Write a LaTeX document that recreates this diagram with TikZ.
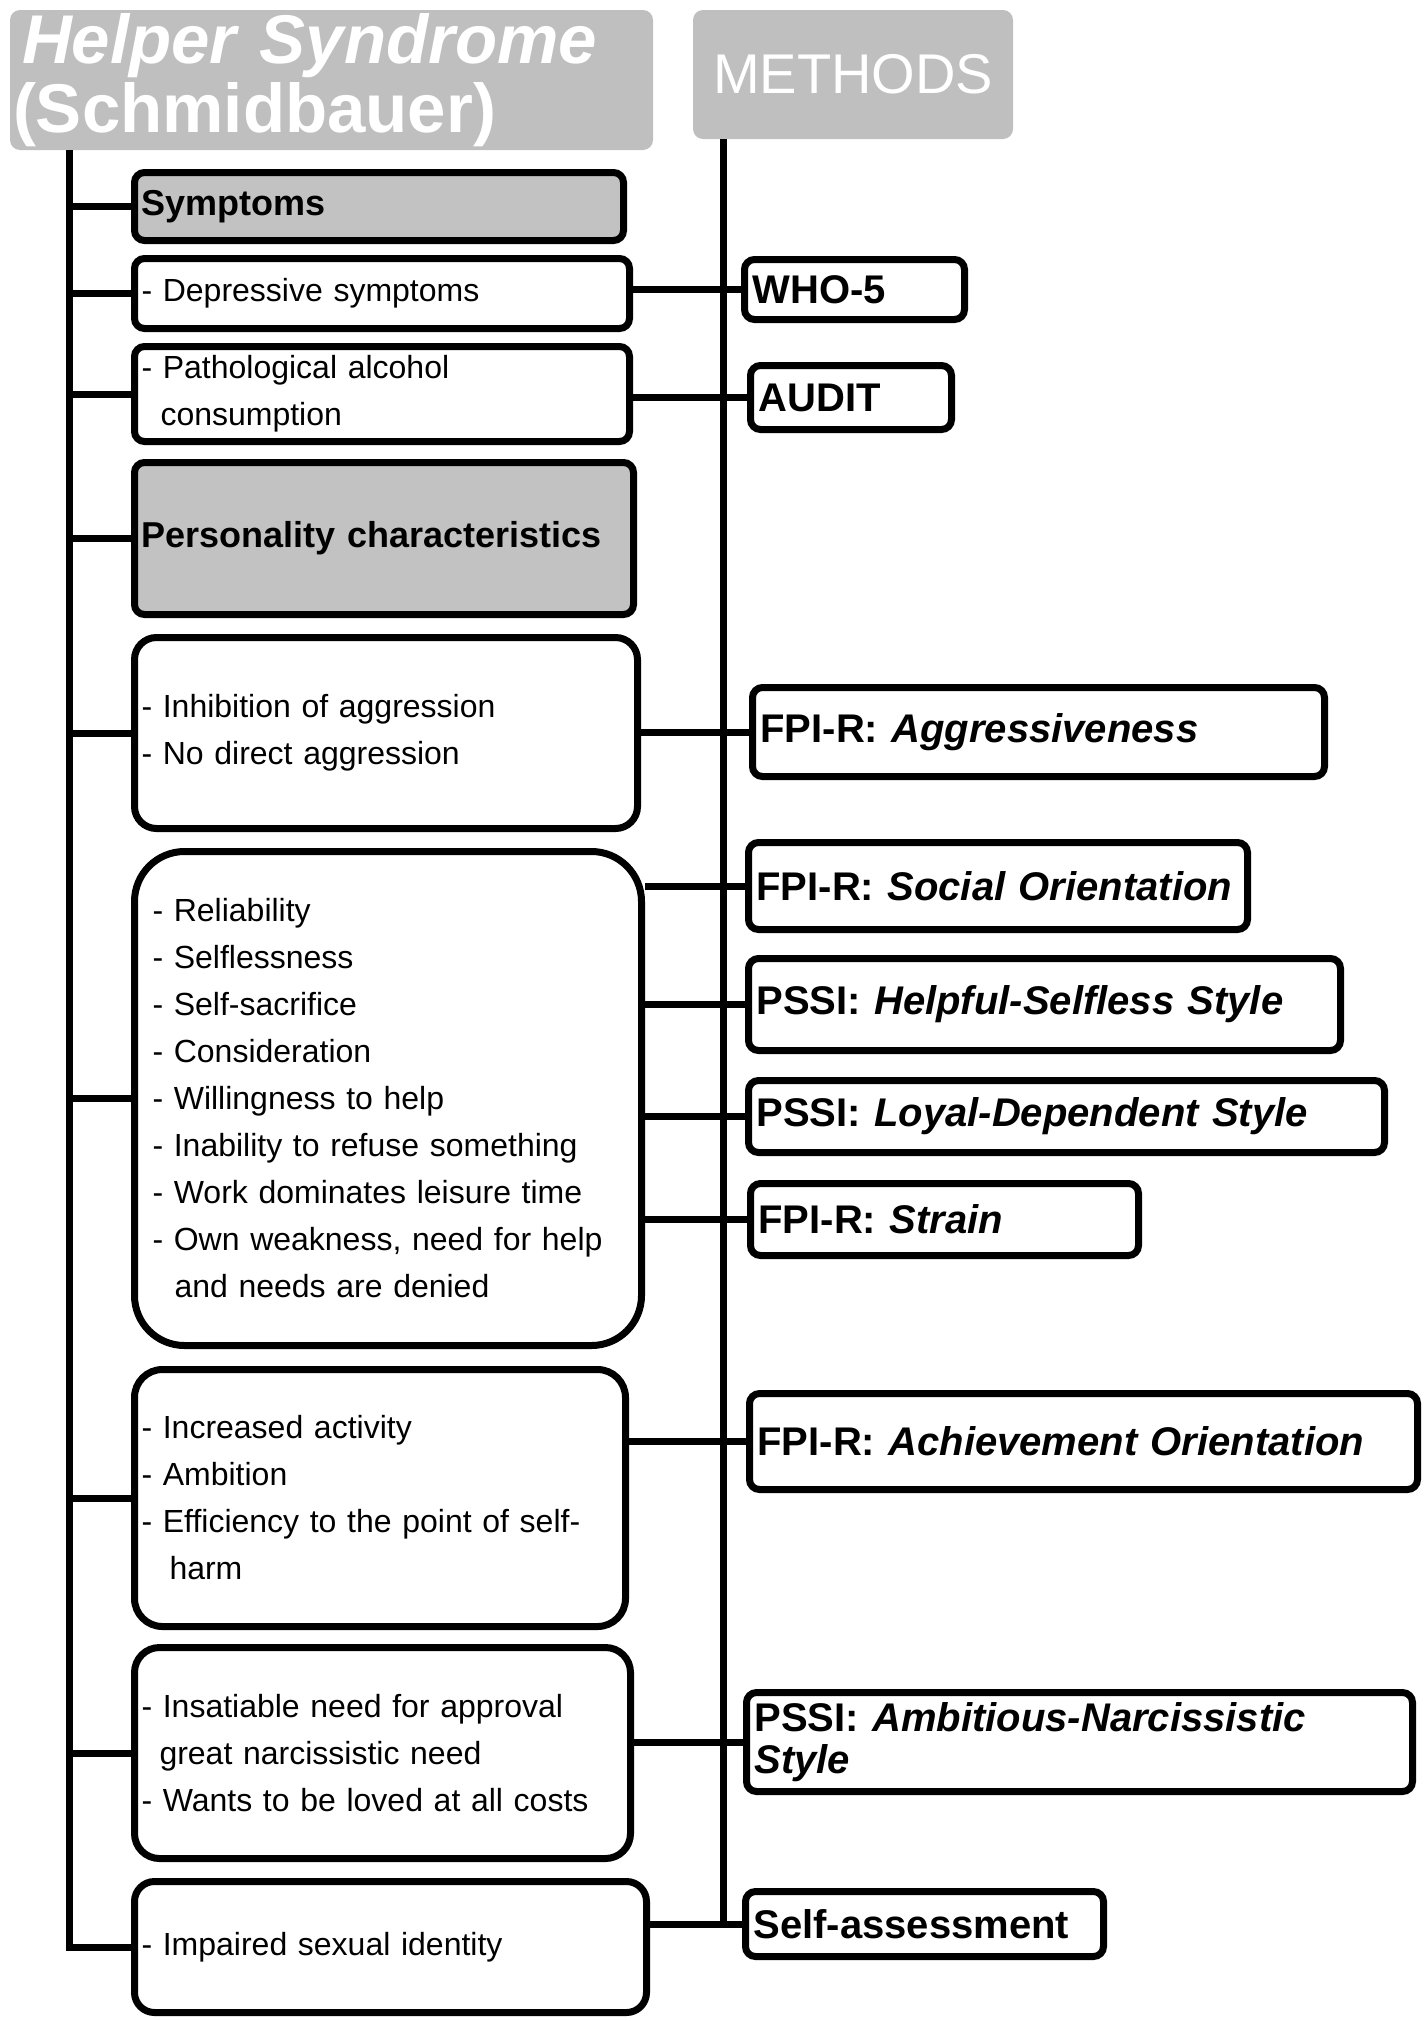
\documentclass[tikz,border=0pt]{standalone}
\usepackage{fontspec}
\setmainfont{Liberation Sans}
\usepackage{tikz}
\usetikzlibrary{positioning}

\begin{document}
\begin{tikzpicture}[
  x=1pt,y=-1pt,
  line width=7pt,
  head/.style={fill=black!25,text=white,rounded corners=10pt,outer sep=0pt,inner xsep=3pt,inner ysep=0pt,anchor=north west},
  lbox/.style={draw,rounded corners=10pt,anchor=west,align=left,inner xsep=7pt,inner ysep=0pt,font=\fontsize{32}{47}\selectfont},
  lhead/.style={lbox,fill=black!24,font=\fontsize{36}{40}\selectfont\bfseries},
  mbox/.style={draw,rounded corners=10pt,anchor=west,align=left,inner xsep=8pt,inner ysep=0pt,font=\fontsize{40}{42}\selectfont\bfseries}
]
\useasboundingbox (0,0) rectangle (1425,2021);
\node[head,align=left,text width=637pt,minimum height=140pt,font=\fontsize{69}{69}\selectfont\bfseries] (title) at (10,10)
  {\hspace*{9pt}{\itshape Helper Syndrome}\\(Schmidbauer)};
\node[head,align=center,minimum width=320pt,minimum height=129pt,font=\fontsize{56}{56}\selectfont] (methods) at (693,10) {METHODS};
\coordinate (ltop) at (69,150);
\coordinate (rtop) at (723,139);

\node[lhead,text width=475pt,minimum height=68pt] (b1) at (131,206.5) {Symptoms};
\node[lbox,text width=481pt,minimum height=70pt] (b2) at (131,293.5) {- Depressive symptoms};
\node[lbox,text width=481pt,minimum height=95pt] (b3) at (131,394) {- Pathological alcohol\\\hspace*{19pt}consumption};
\node[lhead,text width=485pt,minimum height=152pt] (b4) at (131,538.5) {Personality characteristics};
\node[lbox,text width=489pt,minimum height=191pt,rounded corners=22pt] (b5) at (131,733) {- Inhibition of aggression\\- No direct aggression};
\node[lbox,inner xsep=18pt,text width=471pt,minimum height=494pt,rounded corners=50pt] (b6) at (131,1098.5)
  {- Reliability\\- Selflessness\\- Self-sacrifice\\- Consideration\\- Willingness to help\\- Inability to refuse something\\- Work dominates leisure time\\- Own weakness, need for help\\\hspace*{22pt}and needs are denied};
\node[lbox,text width=477pt,minimum height=257pt,rounded corners=28pt] (b7) at (131,1498)
  {- Increased activity\\- Ambition\\- Efficiency to the point of self-\\\hspace*{28pt}harm};
\node[lbox,text width=482pt,minimum height=211pt,rounded corners=25pt] (b8) at (131,1753)
  {- Insatiable need for approval\\\hspace*{18pt}great narcissistic need\\- Wants to be loved at all costs};
\node[lbox,text width=498pt,minimum height=131pt,rounded corners=20pt] (b9) at (131,1947) {- Impaired sexual identity};

\node[mbox,text width=204pt,minimum height=60pt] (who) at (741,289.5) {WHO-5};
\node[mbox,text width=185pt,minimum height=64pt] (audit) at (747,397.5) {AUDIT};
\node[mbox,text width=556pt,minimum height=89pt] (aggr) at (749,732) {FPI-R: \textit{Aggressiveness}};
\node[mbox,text width=483pt,minimum height=87pt] (social) at (745,886) {FPI-R: \textit{Social Orientation}};
\node[mbox,text width=576pt,minimum height=92pt] (helpful) at (745,1004.5) {PSSI: \textit{Helpful-Selfless Style}};
\node[mbox,text width=620pt,minimum height=72pt] (loyal) at (745,1116.5) {PSSI: \textit{Loyal-Dependent Style}};
\node[mbox,text width=372pt,minimum height=72pt] (strain) at (747,1219.5) {FPI-R: \textit{Strain}};
\node[mbox,text width=652pt,minimum height=96pt] (achieve) at (746,1441.5) {FPI-R: \textit{Achievement Orientation}};
\node[mbox,text width=650pt,minimum height=99pt] (ambit) at (743,1742) {PSSI: \textit{Ambitious-Narcissistic}\\\textit{Style}};
\node[mbox,text width=342pt,minimum height=65pt] (self) at (742,1924) {Self-assessment};

\draw (ltop) |- (b9.west);
\foreach \b in {b1,b2,b3,b4,b5,b6,b7,b8}
  \draw (ltop |- \b.west) -- (\b.west);
\draw (rtop) |- (self.west);
\foreach \l/\r in {b2/who,b3/audit,b5/aggr,b6/social,b6/helpful,b6/loyal,b6/strain,b7/achieve,b8/ambit,b9/self}
  \draw (\r.west -| \l.east) -- (\r.west);
\end{tikzpicture}
\end{document}
